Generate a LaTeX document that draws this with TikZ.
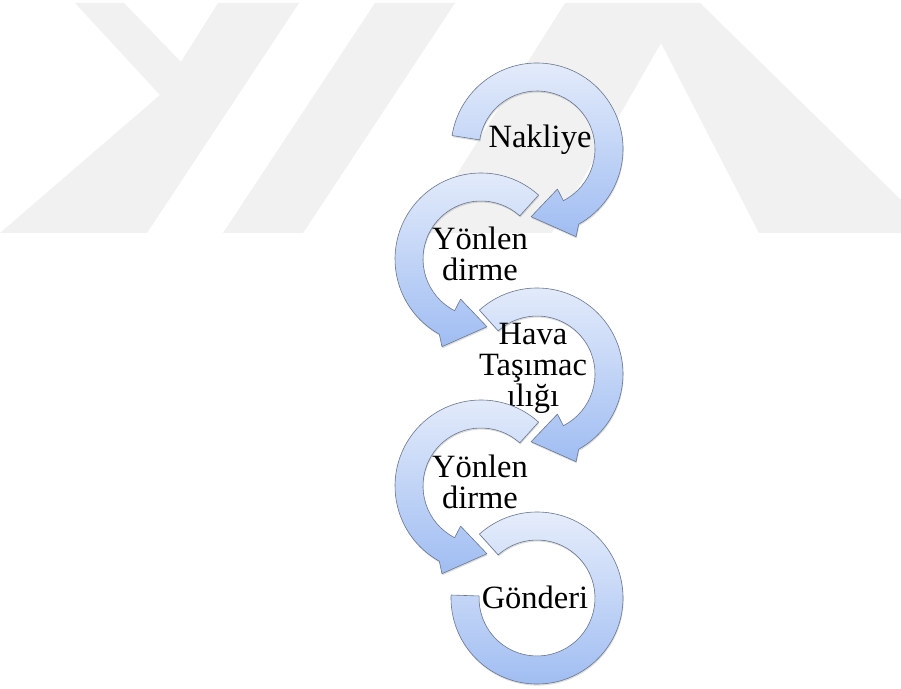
\documentclass[tikz,border=0pt]{standalone}
\usepackage{fontspec}
\setmainfont{Liberation Serif}
\usetikzlibrary{calc,shadows}

\definecolor{wmgray}{RGB}{241,241,241}
\definecolor{ringtop}{RGB}{230,237,251}
\definecolor{ringbot}{RGB}{160,189,242}
\definecolor{ringedge}{RGB}{105,118,142}

% clockwise circular arrow: #1 centre, #2 start angle
\newcommand{\cwarrow}[2]{%
  \path[ring] ($(#1)+(#2:86)$) arc[start angle=#2, end angle=-61, radius=86]
    -- ($(#1)+(-66:96)$) -- ($(#1)+(-95:68)$) -- ($(#1)+(-63:45)$)
    -- ($(#1)+(-63:58)$) arc[start angle=-63, end angle=#2, radius=58] -- cycle;}
% counter-clockwise circular arrow: #1 centre, #2 start angle
\newcommand{\ccwarrow}[2]{%
  \path[ring] ($(#1)+(#2:86)$) arc[start angle=#2, end angle=241, radius=86]
    -- ($(#1)+(246:96)$) -- ($(#1)+(275:68)$) -- ($(#1)+(243:45)$)
    -- ($(#1)+(243:58)$) arc[start angle=243, end angle=#2, radius=58] -- cycle;}

\begin{document}
\begin{tikzpicture}[x=1pt,y=1pt,
  ring/.style={draw=ringedge, line width=0.6pt, top color=ringtop,
    bottom color=ringbot, line join=round,
    drop shadow={shadow xshift=0.6pt, shadow yshift=-1.6pt,
      opacity=0.22, fill=black!60}},
  steplabel/.style={font=\fontsize{32.5}{31}\selectfont, align=center,
    inner sep=0pt, text=black}]

\useasboundingbox (0,0) rectangle (901,688);
\fill[white] (0,0) rectangle (901,688);

% faint logo in the background
\begin{scope}[shift={(0,688)}, yscale=-1]
  \fill[wmgray] (75,3) -- (124,3) -- (181,62) -- (218,3) -- (299,3)
    -- (147,233) -- (0,233) -- (160,95) -- cycle;
  \fill[wmgray] (375,3) -- (455,3) -- (303,233) -- (223,233) -- cycle;
  \fill[wmgray] (565,3) -- (700,3) -- (901,200) -- (901,233) -- (759,233)
    -- (661,43) -- (552,233) -- (420,233) -- cycle;
\end{scope}

\coordinate (C1) at (537,539);
\coordinate (C2) at (481,429);
\coordinate (C3) at (537,314);
\coordinate (C4) at (481,202);
\coordinate (C5) at (537,90);

\cwarrow{C1}{171}
\node[steplabel] (t1) at ($(C1)+(3,9)$) {Nakliye};

\ccwarrow{C2}{48}
\node[steplabel] (t2) at ($(C2)+(-1,5)$) {Yönlen\\dirme};

\cwarrow{C3}{132}
\node[steplabel] (t3) at ($(C3)+(-4,6)$) {Hava\\Taşımac\\ılığı};

\ccwarrow{C4}{48}
\node[steplabel] (t4) at ($(C4)+(-1,4)$) {Yönlen\\dirme};

\path[ring] ($(C5)+(178:86)$) arc[start angle=178, end angle=492, radius=86]
  -- ($(C5)+(132:58)$) arc[start angle=132, end angle=-182, radius=58] -- cycle;
\node[steplabel] (t5) at ($(C5)+(-2,1)$) {Gönderi};

\end{tikzpicture}
\end{document}
